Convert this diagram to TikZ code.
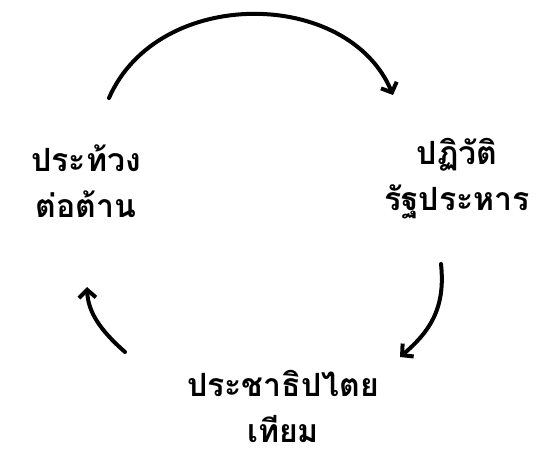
\documentclass[tikz,border=0pt]{standalone}
\usepackage{fontspec}
\newfontfamily\thaifont[Script=Thai]{Loma}
\usetikzlibrary{arrows.meta}

\begin{document}
\begin{tikzpicture}[x=1pt, y=-1pt,
        every node/.style={font=\thaifont\bfseries\fontsize{32}{46}\selectfont, align=center, inner sep=0pt},
        hand/.style={line width=4pt, line cap=round, line join=round,
            -{Straight Barb[length=8pt, width=17pt, line width=4pt]}}]
      \useasboundingbox (0,0) rectangle (551,462);
      \node (protest) at (86,181) {ประท้วง\\ต่อต้าน};
      \node (coup) at (457,179) {ปฏิวัติ\\รัฐประหาร};
      \node (democracy) at (283,406) {ประชาธิปไตย\\เทียม};
      \coordinate (protest-top) at (109,98);
      \coordinate (coup-top) at (393,95);
      \coordinate (coup-bottom) at (441,264);
      \coordinate (democracy-right) at (400,357);
      \coordinate (democracy-left) at (125,352);
      \coordinate (protest-bottom) at (87,287);
      \draw[hand] (protest-top) .. controls (158,-14) and (348,-12) .. (coup-top);
      \draw[hand] (coup-bottom) .. controls (446,310) and (428,333) .. (democracy-right);
      \draw[hand] (democracy-left) .. controls (100,330) and (88,312) .. (protest-bottom);
    \end{tikzpicture}
\end{document}
